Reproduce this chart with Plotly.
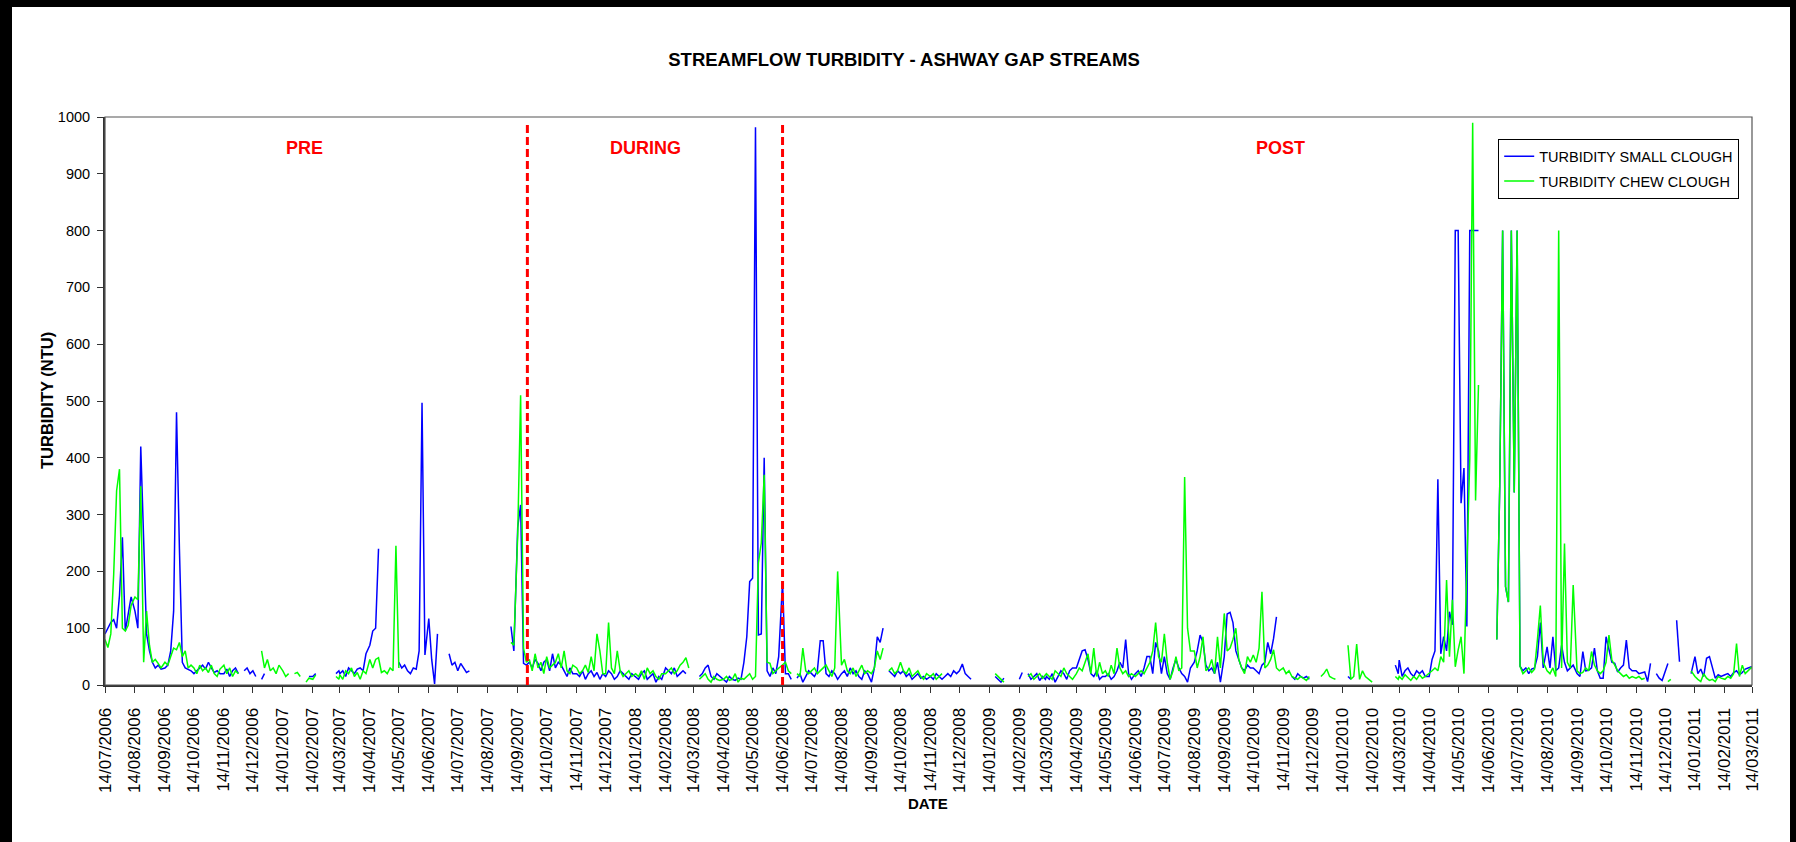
import pandas as pd
import plotly.graph_objects as go

N = None

# ---- sampled every 3 days from the 14th of each month (10 values per month) ----
small_2006 = [
    90, 100, 110, 115, 100, 158, 260, 95, 125, 155,      # Jul
    130, 100, 420, 250, 90, 60, 40, 30, 35, 28,          # Aug
    30, 35, 60, 130, 480, 240, 40, 30, 28, 25,           # Sep
    20, 25, 30, 35, 28, 40, 30, 22, 25, 20,              # Oct
    20, 28, 15, 25, 30, 20, N, 25, 30, 20,               # Nov
    25, 15, N, 10, 20, N, N, N, N, N,                    # Dec
]
chew_2006 = [
    80, 66, 90, 195, 342, 380, 100, 95, 105, 140,
    155, 150, 350, 40, 130, 70, 40, 45, 38, 30,
    40, 35, 50, 65, 62, 75, 50, 60, 30, 35,
    30, 20, 35, 25, 30, 22, 35, 20, 15, 28,
    35, 20, 30, 15, 25, 20, N, N, N, N,
    N, N, N, 60, 30, 45, 25, 30, 20, 35,
]
small_2007 = [
    N, N, N, N, N, N, N, N, N, 15,                       # Jan
    15, 20, N, N, N, N, N, N, 20, 25,                    # Feb
    20, 25, 15, 30, 25, 20, 28, 30, 25, 55,              # Mar
    70, 95, 100, 240, N, N, N, N, N, N,                  # Apr
    40, 30, 35, 25, 20, 30, 28, 60, 497, 53,             # May
    117, 45, 2, 90, N, N, N, 55, 35, 40,                 # Jun
    25, 38, 30, 22, 25, N, N, N, N, N,                   # Jul
    N, N, N, N, N, N, N, N, 103, 60,                     # Aug
    278, 317, 38, 35, 40, 30, 45, 38, 25, 40,            # Sep
    45, 25, 55, 30, 40, 35, 25, 15, 30, 20,              # Oct
    20, 15, 25, 10, 20, 25, 15, 22, 10, 20,              # Nov
    15, 25, 20, 10, 15, 25, 20, 15, 10, 20,              # Dec
]
chew_2007 = [
    25, 15, 20, N, 20, 22, 15, N, 5, 12,
    10, 18, N, N, N, N, N, N, 15, 10,
    18, 10, 25, 20, 30, 15, 22, 10, 25, 20,
    45, 30, 45, 48, 22, 25, 20, 30, 25, 245,
    30, N, N, N, N, N, N, N, N, N,
    N, N, N, N, N, N, N, N, N, N,
    N, N, N, N, N, N, N, N, N, N,
    N, N, N, N, N, N, N, N, 75, 70,
    265, 510, 65, 40, 45, 25, 55, 30, 40, 20,
    50, 30, 35, 40, 55, 30, 60, 25, 20, 35,
    30, 20, 25, 35, 22, 50, 25, 90, 60, 20,
    20, 110, 30, 20, 60, 25, 15, 20, 25, 15,
]
small_2008 = [
    15, 10, 20, 25, 10, 15, 20, 5, 15, 10,
    30, 25, 20, 30, 15, 20, 25, 20, N, N,
    N, N, 15, 20, 30, 35, 15, 10, 20, 15,
    10, 5, 15, 10, 8, 12, 10, 40, 85, 182,
    188, 982, 88, 90, 400, 25, 15, 30, 20, 50,
    182, 20, 20, 10, N, 12, 20, 5, 15, 25,
    20, 15, 25, 78, 78, 20, 15, 25, 20, 10,
    20, 25, 15, 30, 20, 25, 15, 10, 25, 20,
    5, 30, 85, 75, 100, N, 25, 20, 15, 25,
    20, 25, 15, 20, 10, 15, 20, 12, 15, 10,
    15, 10, 20, 15, 10, 15, 20, 15, 25, 20,
    25, 37, 20, 15, 10, N, 8, N, N, N,
]
chew_2008 = [
    20, 15, 25, 10, 30, 20, 25, 15, 10, 20,
    20, 25, 30, 20, 25, 35, 40, 48, 30, N,
    N, N, 10, 15, 20, 10, 5, 15, 10, 8,
    10, 15, 8, 10, 20, 5, 12, 10, 15, 20,
    10, 15, 215, 250, 370, 40, 38, 20, 25, 30,
    35, 40, 25, 20, N, 20, 15, 65, 25, 20,
    25, 30, 20, 25, 30, 35, 25, 15, 30, 200,
    35, 45, 25, 20, 30, 15, 25, 35, 20, 25,
    20, 30, 60, 45, 65, N, 25, 30, 20, 25,
    40, 25, 20, 30, 15, 20, 25, 15, 10, 20,
    15, 20, 10, 15, 20, N, N, N, N, N,
    N, N, N, N, N, N, N, N, N, N,
]
small_2009 = [
    N, N, 15, 10, 5, 12, N, N, N, N,
    10, 22, N, 20, 10, 15, 20, 8, 15, 10,
    15, 10, 20, 5, 15, 25, 20, 10, 25, 30,
    30, 45, 60, 62, 45, 20, 15, 25, 10, 15,
    15, 20, 10, 15, 25, 40, 30, 80, 20, 10,
    20, 25, 15, 30, 50, 50, 20, 75, 60, 20,
    50, 20, 10, 30, 45, 30, 20, 15, 5, 30,
    40, 60, 88, 75, 35, 25, 30, 20, 40, 5,
    50, 125, 128, 110, 60, 45, 30, 25, 35, 30,
    30, 25, 20, 35, 40, 75, 55, 82, 120, N,
    N, N, N, 15, 10, 20, 15, 12, 15, 10,
    N, N, N, N, N, N, N, N, N, N,
]
chew_2009 = [
    N, N, 20, 15, 10, 5, N, N, N, N,
    N, N, N, 15, 20, 10, 15, 20, 12, 18,
    20, 15, 10, 25, 20, 15, 30, 20, 15, 10,
    20, 30, 25, 40, 55, 20, 65, 15, 40, 20,
    25, 15, 35, 20, 65, 30, 20, 25, 15, 20,
    15, 20, 25, 20, 30, 40, 60, 110, 50, 40,
    90, 40, 10, 25, 50, 25, 30, 366, 100, 60,
    60, 30, 50, 85, 25, 30, 45, 20, 85, 30,
    126, 60, 65, 80, 100, 45, 30, 20, 50, 40,
    53, 40, 65, 164, 30, 35, 45, 62, 30, 25,
    30, 20, 25, 15, 12, 10, 15, 12, 8, 15,
    N, N, N, 15, 20, 28, 15, 12, 10, N,
]
small_2010 = [
    N, N, 15, 10, N, N, N, N, N, N,
    N, N, N, N, N, N, N, N, 35, 20,
    44, 15, 25, 30, 20, 15, 25, 20, 25, 15,
    15, 45, 60, 362, 55, 85, 60, 129, 106, 800,
    800, 320, 382, 103, 800, 800, 800, 800, N, N,
    N, N, N, 80, 349, 800, 173, 146, 800, 339,
    800, 33, 25, 30, 20, 28, 30, 50, 110, 30,
    67, 30, 85, 25, 30, 70, 40, 25, 30, 35,
    20, 15, 59, 25, 26, 30, 65, 25, 12, 12,
    85, 60, 40, 38, 23, 30, 35, 79, 30, 25,
    25, 20, 22, 23, 6, 38, N, 20, 12, 8,
    23, 38, N, N, 114, 41, N, N, N, 20,
]
chew_2010 = [
    N, N, 70, 10, 15, 72, 10, 25, 15, 10,
    5, N, N, N, N, N, N, N, 15, 10,
    15, 10, 18, 12, 8, 15, 10, 18, 12, 15,
    20, 25, 30, 25, 50, 40, 185, 50, 150, 32,
    62, 85, 20, 219, 398, 990, 325, 528, N, N,
    N, N, N, 80, 349, 800, 173, 146, 800, 339,
    800, 33, 20, 25, 30, 22, 28, 80, 140, 40,
    25, 20, 30, 15, 800, 30, 249, 40, 30, 176,
    25, 20, 22, 30, 25, 59, 35, 25, 20, 25,
    40, 88, 44, 35, 25, 20, 15, 18, 12, 15,
    12, 15, 10, 12, N, N, N, N, N, N,
    N, 6, 10, N, N, N, N, N, N, 25,
]
small_2011 = [
    50, 20, 28, 15, 47, 50, 29, 12, 18, 15,
    18, 20, 15, 22, 25, 18, 22, 28, 30, 32,
    30,                                                  # 14/03/2011
]
chew_2011 = [
    15, 10, 6, 20, 12, 8, 10, 6, 15, 12,
    10, 15, 12, 20, 73, 15, 35, 20, 25, 30,
    32,
]

START_DATE = "2006-07-14"
END_DATE = "2011-03-14"
MONTHS = pd.date_range("2006-07-01", "2011-02-01", freq="MS") + pd.Timedelta(days=13)
dates = [m + pd.Timedelta(days=3 * k) for m in MONTHS for k in range(10)] + [pd.Timestamp(END_DATE)]

small_clough = small_2006 + small_2007 + small_2008 + small_2009 + small_2010 + small_2011
chew_clough = chew_2006 + chew_2007 + chew_2008 + chew_2009 + chew_2010 + chew_2011

PHASE_DATES = ["2007-09-24", "2008-06-14"]
PHASE_LABELS = ["PRE", "DURING", "POST"]

FONT = "Arial, Liberation Sans, sans-serif"

# plot-area geometry (px)
W, H = 1796, 842
L, R, T, B = 105, 44, 117, 157
PW, PH = W - L - R, H - T - B


def px_x(px):
    return (px - L) / PW


def px_y(py):
    return (H - B - py) / PH


fig = go.Figure()
fig.add_trace(go.Scatter(
    x=dates, y=small_clough, mode="lines", name="TURBIDITY SMALL CLOUGH",
    line=dict(color="#0000FF", width=1.5), legendgroup="a",
))
fig.add_trace(go.Scatter(
    x=dates, y=chew_clough, mode="lines", name="TURBIDITY CHEW CLOUGH",
    line=dict(color="#00FF00", width=1.5), legendgroup="b",
))

shapes = []
# outer black frame (top, left, right)
shapes.append(dict(type="rect", xref="paper", yref="paper", x0=px_x(-5), x1=px_x(W + 5),
                   y0=px_y(7), y1=px_y(-5), fillcolor="black", line=dict(width=0), layer="above"))
shapes.append(dict(type="rect", xref="paper", yref="paper", x0=px_x(-5), x1=px_x(12),
                   y0=px_y(H + 5), y1=px_y(-5), fillcolor="black", line=dict(width=0), layer="above"))
shapes.append(dict(type="rect", xref="paper", yref="paper", x0=px_x(1790), x1=px_x(W + 5),
                   y0=px_y(H + 5), y1=px_y(-5), fillcolor="black", line=dict(width=0), layer="above"))
# plot area frame
shapes.append(dict(type="rect", xref="paper", yref="paper", x0=0, x1=1, y0=0, y1=1,
                   line=dict(color="#555555", width=1.2), layer="above"))
# phase boundaries
for d in PHASE_DATES:
    shapes.append(dict(type="line", xref="x", yref="y", x0=d, x1=d, y0=0, y1=988,
                       line=dict(color="#FF0000", width=3, dash="8px,4px"), layer="above"))

annotations = []
for lbl, cx in zip(PHASE_LABELS, [304, 645, 1280]):
    annotations.append(dict(text=lbl, xref="paper", yref="paper", x=px_x(cx), y=px_y(148),
                            xanchor="center", yanchor="middle", showarrow=False,
                            font=dict(family=FONT, size=18, color="#FF0000", weight="bold")))
# y-axis title
annotations.append(dict(text="TURBIDITY (NTU)", xref="paper", yref="paper", x=px_x(47), y=px_y(401),
                        xanchor="center", yanchor="middle", textangle=-90, showarrow=False,
                        font=dict(family=FONT, size=16.5, color="black", weight="bold")))
# x-axis title
annotations.append(dict(text="DATE", xref="paper", yref="paper", x=px_x(928), y=px_y(803),
                        xanchor="center", yanchor="middle", showarrow=False,
                        font=dict(family=FONT, size=15, color="black", weight="bold")))

fig.update_layout(
    width=W, height=H,
    margin=dict(l=L, r=R, t=T, b=B, pad=0),
    paper_bgcolor="white", plot_bgcolor="white",
    title=dict(text="STREAMFLOW TURBIDITY - ASHWAY GAP STREAMS", xref="container", x=904 / W,
               xanchor="center", yref="container", y=1 - 60 / H, yanchor="middle",
               font=dict(family=FONT, size=18.5, color="black", weight="bold")),
    font=dict(family=FONT, color="black"),
    showlegend=True,
    legend=dict(x=px_x(1498), y=px_y(139), xanchor="left", yanchor="top",
                bgcolor="white", bordercolor="black", borderwidth=1.2,
                font=dict(family=FONT, size=14.5, color="black"),
                tracegroupgap=3, itemwidth=30),
    shapes=shapes,
    annotations=annotations,
)

fig.update_xaxes(
    type="date", range=[START_DATE, END_DATE],
    tick0=START_DATE, dtick="M1", tickformat="%d/%m/%Y", tickangle=-90,
    ticks="outside", ticklen=6, tickwidth=1, tickcolor="#333333",
    tickfont=dict(family=FONT, size=17, color="black"), ticklabelstandoff=8,
    showline=True, linecolor="#333333", linewidth=2, showgrid=False, zeroline=False,
)
fig.update_yaxes(
    range=[0, 1000], tick0=0, dtick=100,
    ticks="outside", ticklen=6, tickwidth=1, tickcolor="#333333",
    tickfont=dict(family=FONT, size=14.5, color="black"), ticklabelstandoff=4,
    showline=True, linecolor="#333333", linewidth=2, showgrid=False, zeroline=False,
)

fig.write_html("out.html", config={"displayModeBar": False},
               post_script="document.body.style.margin='0';document.body.style.overflow='hidden';")
